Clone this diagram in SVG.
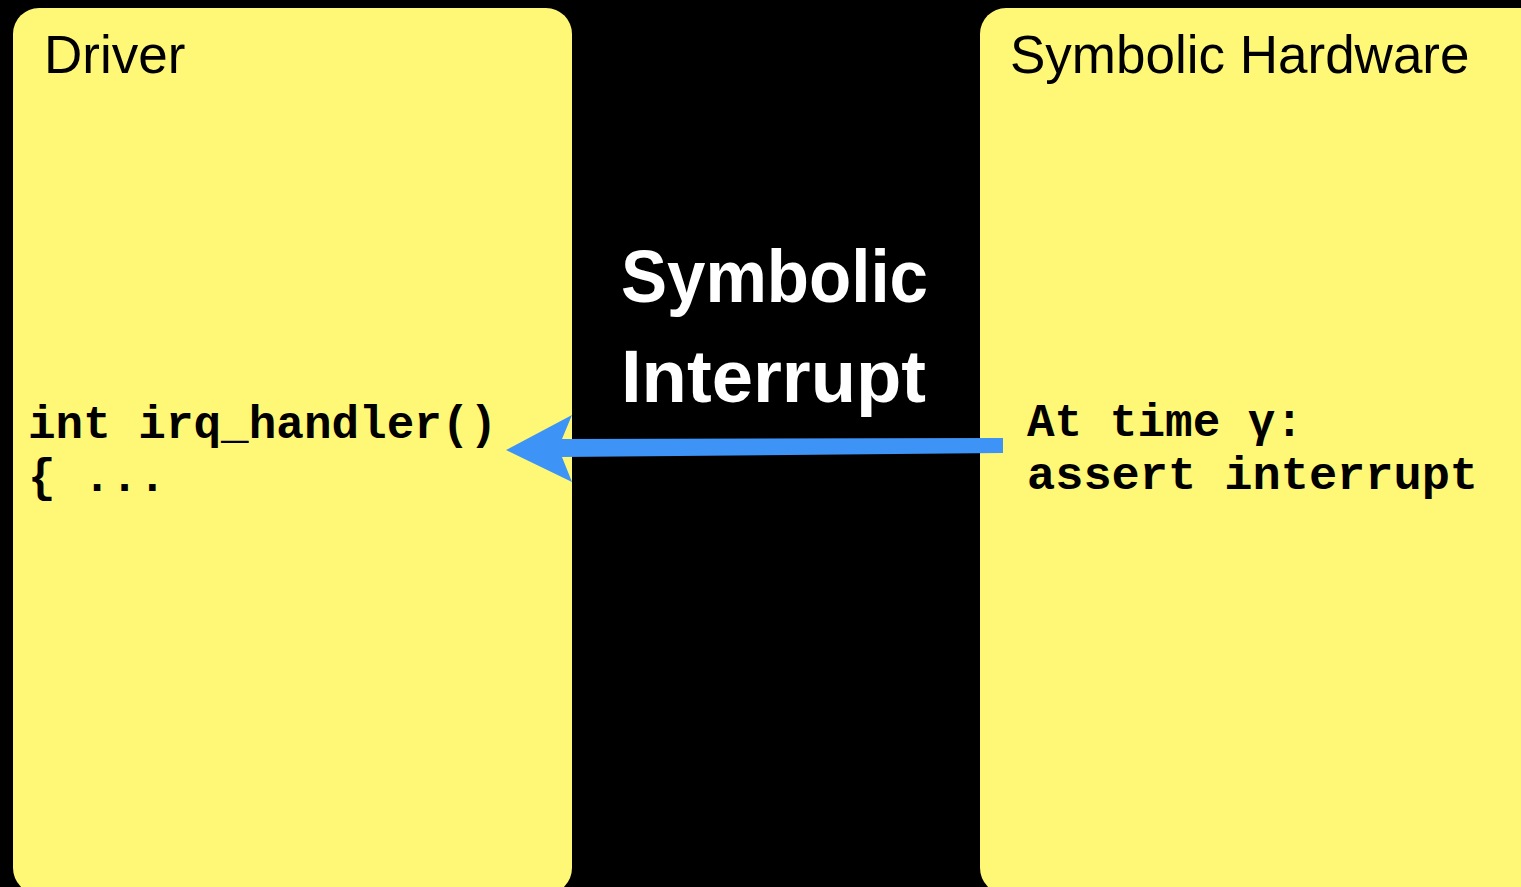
<svg xmlns="http://www.w3.org/2000/svg" width="1521" height="887" viewBox="0 0 1521 887">
<style>
.box{fill:#fff877;}
.title{font-family:"Liberation Sans",Arial,sans-serif;font-size:53px;fill:#000;}
.code{font-family:"Liberation Mono","Courier New",monospace;font-weight:bold;font-size:46px;fill:#000;}
.big{font-family:"Liberation Sans",Arial,sans-serif;font-weight:bold;font-size:74px;fill:#fff;}
</style>
<rect x="0" y="0" width="1521" height="887" fill="#000"/>
<g id="driver">
<rect class="box" x="13" y="8" width="559" height="886" rx="26" ry="26"/>
<text class="title" x="44" y="73">Driver</text>
<text class="code" x="28" y="438" textLength="469" lengthAdjust="spacingAndGlyphs">int irq_handler()</text>
<text class="code" x="28" y="491">{ ...</text>
</g>
<g id="hardware">
<rect class="box" x="980" y="8" width="580" height="886" rx="26" ry="26"/>
<text class="title" x="1010" y="73">Symbolic Hardware</text>
<text class="code" x="1027" y="436">At time γ:</text>
<text class="code" x="1027" y="489" textLength="451" lengthAdjust="spacingAndGlyphs">assert interrupt</text>
</g>
<g id="label">
<text class="big" x="621" y="302" textLength="307" lengthAdjust="spacingAndGlyphs">Symbolic</text>
<text class="big" x="621" y="402" textLength="305" lengthAdjust="spacingAndGlyphs">Interrupt</text>
</g>
<g id="connectors">
<polygon fill="#3d94f6" points="1003,438 1003,453 562,457 572,482 506,450 572,415 562,439"/>
</g>
</svg>
